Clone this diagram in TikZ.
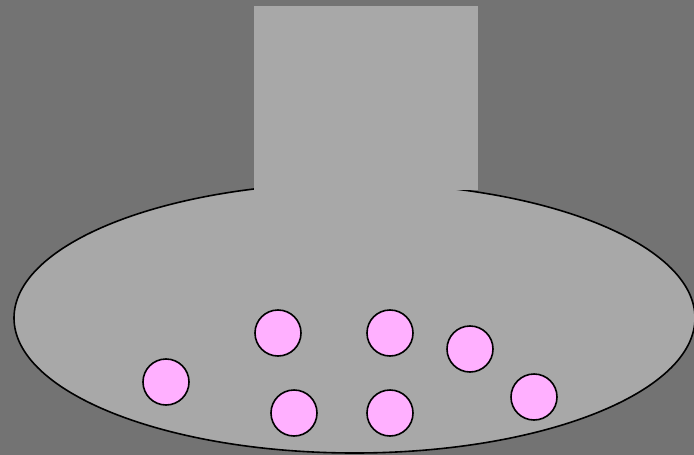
\documentclass[tikz,border=0pt]{standalone}
\definecolor{bgc}{HTML}{737373}
\definecolor{bodyc}{HTML}{A8A8A8}
\definecolor{ballc}{HTML}{FFB0FF}
\begin{document}
\begin{tikzpicture}[x=1pt,y=-1pt,
  ball/.style={circle,draw=black,line width=1.6pt,fill=ballc,minimum size=46pt,inner sep=0pt}]
\fill[bgc] (0,0) rectangle (694,455);
\useasboundingbox (0,0) rectangle (694,455);
\draw[fill=bodyc,line width=1.6pt] (354.5,318) ellipse [x radius=340.5, y radius=135];
\fill[bodyc] (254,6) rectangle (478,190);
\node[ball] (b1) at (278,333) {};
\node[ball] (b2) at (390,333) {};
\node[ball] (b3) at (470,349) {};
\node[ball] (b4) at (166,382) {};
\node[ball] (b5) at (294,413) {};
\node[ball] (b6) at (390,413) {};
\node[ball] (b7) at (534,397) {};
\end{tikzpicture}
\end{document}
